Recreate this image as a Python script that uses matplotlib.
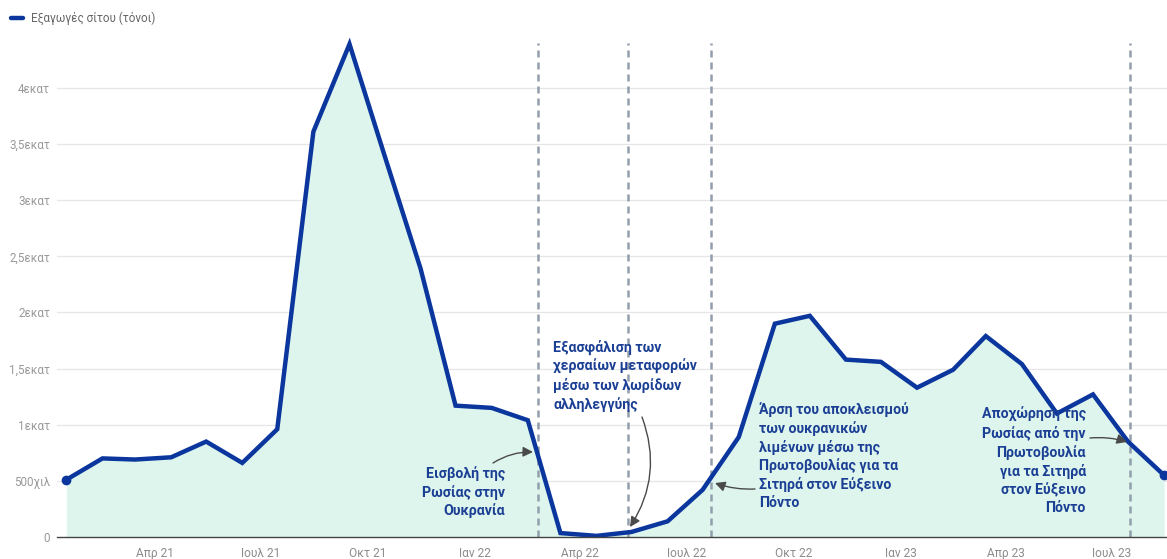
import matplotlib
matplotlib.use("Agg")
import matplotlib.pyplot as plt
import matplotlib.dates as mdates
import pandas as pd
from matplotlib.ticker import FuncFormatter

# ---- data ----
months = pd.date_range("2021-01-01", periods=32, freq="MS") + pd.Timedelta(days=14)
exports_mt = [0.51, 0.70, 0.69, 0.71, 0.85, 0.66, 0.96, 3.61, 4.39, 3.40, 2.39, 1.17,
              1.15, 1.04, 0.035, 0.01, 0.045, 0.14, 0.42, 0.89, 1.90, 1.97, 1.58, 1.56,
              1.33, 1.49, 1.79, 1.54, 1.10, 1.27, 0.85, 0.55]
exports = [v * 1e6 for v in exports_mt]
series_label = "Εξαγωγές σίτου (τόνοι)"

event_dates = pd.to_datetime(["2022-02-24", "2022-05-12", "2022-07-22", "2023-07-17"])
event_texts = [
    "Εισβολή της\nΡωσίας στην\nΟυκρανία",
    "Εξασφάλιση των\nχερσαίων μεταφορών\nμέσω των λωρίδων\nαλληλεγγύης",
    "Άρση του αποκλεισμού\nτων ουκρανικών\nλιμένων μέσω της\nΠρωτοβουλίας για τα\nΣιτηρά στον Εύξεινο\nΠόντο",
    "Αποχώρηση της\nΡωσίας από την\nΠρωτοβουλία\nγια τα Σιτηρά\nστον Εύξεινο\nΠόντο",
]

tick_dates = pd.date_range("2021-04-01", "2023-07-01", freq="3MS")
greek_months = {1: "Ιαν", 4: "Απρ", 7: "Ιουλ", 10: "Οκτ"}
tick_labels = [f"{greek_months[d.month]} {d.strftime('%y')}" for d in tick_dates]

yticks = [0, 0.5e6, 1e6, 1.5e6, 2e6, 2.5e6, 3e6, 3.5e6, 4e6]

# ---- styles ----
LINE = "#0a369d"
FILL = "#ddf5ec"
TXT = "#1b3f94"
plt.rcParams["font.family"] = ["Roboto", "DejaVu Sans"]

W, H = 1167, 559
fig = plt.figure(figsize=(W / 100, H / 100), dpi=100)
ax = fig.add_axes([57 / W, 22 / H, (1167 - 57) / W, (537 - 43) / H])

x0 = mdates.date2num(months[0]) - 8
x1 = mdates.date2num(months[-1]) + 2.5
ax.set_xlim(x0, x1)
ax.set_ylim(0, 4.40e6)

ax.fill_between(months, exports, 0, color=FILL, lw=0, zorder=1)
ax.plot(months, exports, color=LINE, lw=3.2, solid_joinstyle="miter", zorder=4, clip_on=False)
ax.plot([months[0], months[-1]], [exports[0], exports[-1]], "o", color=LINE, ms=6, zorder=5, clip_on=False)

for d in event_dates:
    ax.axvline(d, color="#939eac", lw=1.8, ls=(0, (2.8, 2.0)), zorder=3)

# grid / axes
for y in yticks[1:]:
    ax.axhline(y, color="#e6e6e6", lw=0.9, zorder=0)
ax.set_yticks(yticks)

def fmt(v, pos):
    if v == 0:
        return "0"
    if v < 1e6:
        return f"{int(v/1e3)}χιλ"
    m = v / 1e6
    s = f"{m:g}".replace(".", ",")
    return f"{s}εκατ"

ax.yaxis.set_major_formatter(FuncFormatter(fmt))
ax.set_xticks(tick_dates)
ax.set_xticklabels(tick_labels)
ax.tick_params(axis="y", length=0, pad=5, labelsize=8.4, labelcolor="#999999")
ax.tick_params(axis="x", length=0, pad=7, labelsize=8.6, labelcolor="#8c8c8c")
for s in ["top", "right", "left"]:
    ax.spines[s].set_visible(False)
ax.spines["bottom"].set_color("#444444")
ax.spines["bottom"].set_linewidth(1.0)
ax.spines["bottom"].set_zorder(6)

# annotations
fs = 10.2
lsp = 1.33

def fig_xy(xp, yp):
    return (xp / W, 1 - yp / H)

txt_kw = dict(fontsize=fs, fontweight="bold", color=TXT, linespacing=lsp, zorder=7, va="top")
fig.text(505 / W, 1 - 466 / H, event_texts[0], ha="right", **txt_kw)
fig.text(553 / W, 1 - 340 / H, event_texts[1], ha="left", **txt_kw)
fig.text(759 / W, 1 - 402 / H, event_texts[2], ha="left", **txt_kw)
fig.text(1086 / W, 1 - 407 / H, event_texts[3], ha="right", **txt_kw)

arrows = [((493, 463), (533, 452), -0.15),
          ((642, 417), (630, 527), -0.25),
          ((755, 489), (715, 483), -0.1),
          ((1090, 438), (1127, 442), -0.1)]
for start, end, rad in arrows:
    fig.add_artist(matplotlib.patches.FancyArrowPatch(
        fig_xy(*start), fig_xy(*end), transform=fig.transFigure,
        arrowstyle="-|>,head_length=6,head_width=3", connectionstyle=f"arc3,rad={rad}",
        color="#4a4a4a", lw=1.0, zorder=8, shrinkA=0, shrinkB=0, mutation_scale=1))

# legend
fig.add_artist(matplotlib.lines.Line2D([11 / W, 23 / W], [1 - 18 / H, 1 - 18 / H],
               color=LINE, lw=3.2, solid_capstyle="round", transform=fig.transFigure))
fig.text(31 / W, 1 - 18 / H, series_label, ha="left", va="center", fontsize=8.4, color="#666666")

fig.savefig("out.png", dpi=100)
